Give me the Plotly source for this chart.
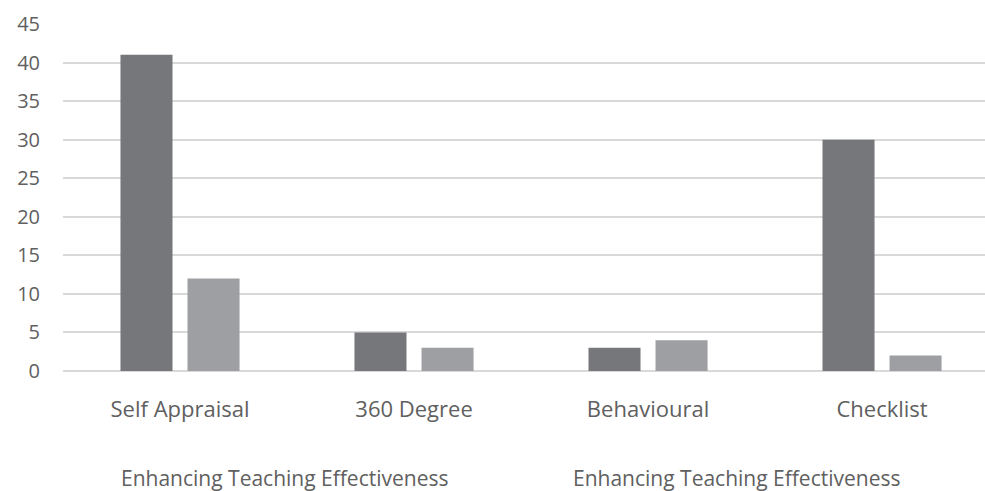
import plotly.graph_objects as go

categories = ["Self Appraisal", "360 Degree", "Behavioural", "Checklist"]
series_names = ["Enhancing Teaching Effectiveness", "Enhancing Teaching Effectiveness"]
series_a = [41, 5, 3, 30]
series_b = [12, 3, 4, 2]
y_ticks = [0, 5, 10, 15, 20, 25, 30, 35, 40, 45]

colors = ["#76777b", "#9e9fa3"]
font_family = "Open Sans, Noto Sans, sans-serif"
text_color = "#606060"

fig = go.Figure()
for name, vals, col in zip(series_names, [series_a, series_b], colors):
    fig.add_trace(go.Bar(x=categories, y=vals, name=name, marker_color=col,
                         marker_line_width=0, showlegend=False))

fig.update_layout(
    width=985, height=491,
    margin=dict(l=63, r=0, t=24, b=120),
    paper_bgcolor="white", plot_bgcolor="white",
    barmode="group", bargap=0.427, bargroupgap=0.224,
    font=dict(family=font_family, size=20, color=text_color),
    showlegend=False,
)
fig.update_xaxes(range=[-0.5, 3.44], showgrid=False, showline=False, ticks="",
                 ticklabelstandoff=23, tickfont=dict(size=22, color=text_color))
fig.update_yaxes(range=[0, 45], tickvals=y_ticks, showgrid=True, gridcolor="#d9d9d9",
                 gridwidth=1.5, zeroline=True, zerolinecolor="#d9d9d9", zerolinewidth=1.5,
                 showline=False, ticks="", ticklabelstandoff=22,
                 tickfont=dict(size=20, color=text_color))

legend_x = [0.24, 0.731]
for name, lx in zip(series_names, legend_x):
    fig.add_annotation(text=name, x=lx, y=-0.308, xref="paper", yref="paper",
                       xanchor="center", yanchor="middle", showarrow=False,
                       font=dict(size=21, color=text_color))

fig.write_html("out.html")
